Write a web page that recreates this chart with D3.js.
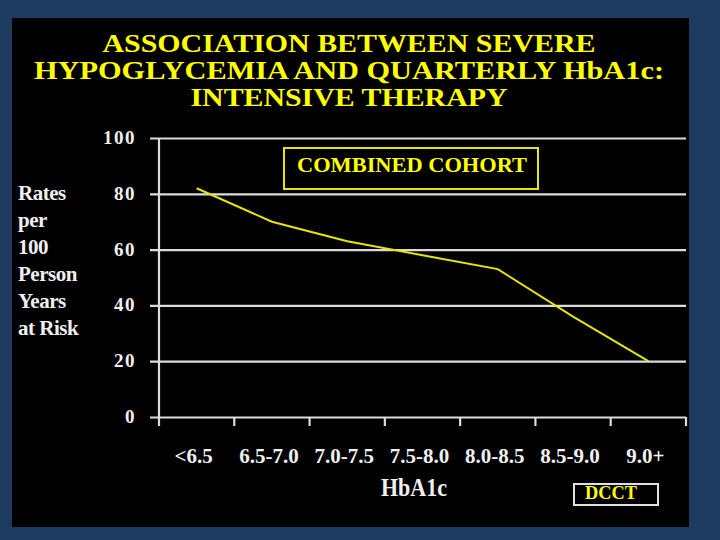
<!DOCTYPE html>
<html>
<head>
<meta charset="utf-8">
<script src="https://cdn.jsdelivr.net/npm/d3@7"></script>
<style>
  html, body { margin: 0; padding: 0; background: #1d3a60; }
  svg { display: block; }
</style>
</head>
<body>
<svg id="chart" width="720" height="540"></svg>
<script>
// ---- data ----
const categories = ["<6.5", "6.5-7.0", "7.0-7.5", "7.5-8.0", "8.0-8.5", "8.5-9.0", "9.0+"];
const rates = [82, 70, 63, 58, 53, 36, 20];
const yTicks = [0, 20, 40, 60, 80, 100];
const titleLines = ["ASSOCIATION BETWEEN SEVERE", "HYPOGLYCEMIA AND QUARTERLY HbA1c:", "INTENSIVE THERAPY"];
const yLabelLines = ["Rates", "per", "100", "Person", "Years", "at Risk"];
const xLabel = "HbA1c";
const boxLabel = "COMBINED COHORT";
const sourceLabel = "DCCT";

const svg = d3.select("#chart");
const serif = "'Liberation Serif', 'Times New Roman', serif";
const yellow = "#ffff00";
const grid = "#dcdcdc";

// panel
svg.append("rect").attr("x", 0).attr("y", 0).attr("width", 720).attr("height", 540).attr("fill", "#1d3a60");
svg.append("rect").attr("x", 12).attr("y", 18).attr("width", 677).attr("height", 509).attr("fill", "#000");

// title
const titleY = [52, 79, 106];
const titleW = [493, 630, 317];
svg.append("g").selectAll("text").data(titleLines).join("text")
  .attr("x", 349).attr("y", (d, i) => titleY[i])
  .attr("text-anchor", "middle")
  .attr("textLength", (d, i) => titleW[i])
  .attr("lengthAdjust", "spacingAndGlyphs")
  .attr("font-family", serif).attr("font-weight", "bold").attr("font-size", 25)
  .attr("fill", yellow)
  .text(d => d);

// scales
const x = d3.scaleBand().domain(categories).range([159, 686]).padding(0);
const y = d3.scaleLinear().domain([0, 100]).range([417, 138]);

// gridlines (y axis ticks extend left)
const yAxis = d3.axisLeft(y).tickValues(yTicks).tickSize(-(686 - 150)).tickFormat("");
const gy = svg.append("g").attr("transform", "translate(150,0)").call(yAxis);
gy.select(".domain").remove();
gy.selectAll(".tick line").attr("stroke", grid).attr("stroke-width", 2.2);

// vertical axis line
svg.append("line").attr("x1", 159).attr("x2", 159).attr("y1", y(100)).attr("y2", 426)
  .attr("stroke", grid).attr("stroke-width", 2.2);

// x tick marks at band boundaries
const bounds = categories.map(c => x(c) + x.bandwidth());
svg.append("g").selectAll("line").data(bounds).join("line")
  .attr("x1", d => d).attr("x2", d => d).attr("y1", y(0)).attr("y2", 426)
  .attr("stroke", grid).attr("stroke-width", 2.2);

// y tick labels
svg.append("g").selectAll("text").data(yTicks).join("text")
  .attr("x", 136).attr("y", d => y(d) + 6)
  .attr("text-anchor", "end")
  .attr("font-family", serif).attr("font-weight", "bold").attr("font-size", 19)
  .attr("letter-spacing", 1.5)
  .attr("fill", "#f0f0f0")
  .text(d => d);

// x tick labels
svg.append("g").selectAll("text").data(categories).join("text")
  .attr("x", d => x(d) + x.bandwidth() / 2 - 3).attr("y", 463)
  .attr("text-anchor", "middle")
  .attr("font-family", serif).attr("font-weight", "bold").attr("font-size", 21)
  .attr("fill", "#f0f0f0")
  .text(d => d);

// axis titles
svg.append("text").attr("x", 414).attr("y", 496).attr("text-anchor", "middle")
  .attr("textLength", 66).attr("lengthAdjust", "spacingAndGlyphs")
  .attr("font-family", serif).attr("font-weight", "bold").attr("font-size", 26)
  .attr("fill", "#f0f0f0").text(xLabel);

svg.append("g").selectAll("text").data(yLabelLines).join("text")
  .attr("x", 18).attr("y", (d, i) => 200 + i * 27)
  .attr("font-family", serif).attr("font-weight", "bold").attr("font-size", 21)
  .attr("letter-spacing", -0.5)
  .attr("fill", "#f0f0f0")
  .text(d => d);

// line
const line = d3.line().x((d, i) => x(categories[i]) + x.bandwidth() / 2).y(d => y(d));
svg.append("path").datum(rates).attr("d", line)
  .attr("fill", "none").attr("stroke", "#e6e600").attr("stroke-width", 2);

// combined cohort box
svg.append("rect").attr("x", 284).attr("y", 148).attr("width", 254).attr("height", 41)
  .attr("fill", "none").attr("stroke", "#e6e600").attr("stroke-width", 2);
svg.append("text").attr("x", 412).attr("y", 172).attr("text-anchor", "middle")
  .attr("textLength", 230).attr("lengthAdjust", "spacingAndGlyphs")
  .attr("font-family", serif).attr("font-weight", "bold").attr("font-size", 22)
  .attr("fill", yellow).text(boxLabel);

// DCCT box
svg.append("rect").attr("x", 574).attr("y", 484).attr("width", 84).attr("height", 21)
  .attr("fill", "none").attr("stroke", "#e0e0e0").attr("stroke-width", 2);
svg.append("text").attr("x", 611).attr("y", 499).attr("text-anchor", "middle")
  .attr("textLength", 52).attr("lengthAdjust", "spacingAndGlyphs")
  .attr("font-family", serif).attr("font-weight", "bold").attr("font-size", 18)
  .attr("fill", yellow).text(sourceLabel);
</script>
</body>
</html>
